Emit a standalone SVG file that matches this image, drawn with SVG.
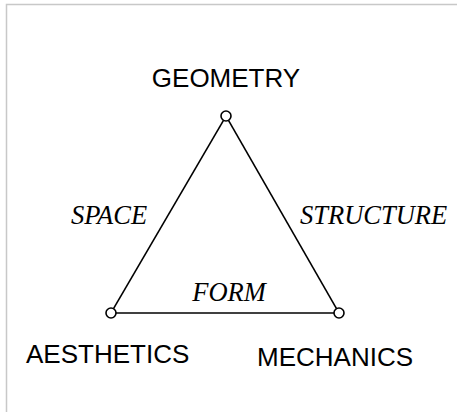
<svg xmlns="http://www.w3.org/2000/svg" width="457" height="412" viewBox="0 0 457 412">
<style>
.edge{stroke:#000;stroke-width:1.6;fill:none}
.node{fill:#fff;stroke:#000;stroke-width:1.6}
.lbl{font-family:"Liberation Sans",Arial,sans-serif;font-size:26px;fill:#000}
.elbl{font-family:"Liberation Serif","Times New Roman",serif;font-style:italic;font-size:26.5px;fill:#000}
</style>
<rect width="457" height="412" fill="#fff"/>
<path d="M6.5 420 V4.5 H470" fill="none" stroke="#c8c8c8" stroke-width="1.5"/>
<g id="connectors">
<line class="edge" x1="223.5" y1="120.3" x2="113.5" y2="308.7"/>
<line class="edge" x1="228.5" y1="120.3" x2="336.5" y2="308.7"/>
<line class="edge" x1="116" y1="313" x2="334" y2="313"/>
<text class="elbl" x="71" y="224">SPACE</text>
<text class="elbl" x="300" y="224">STRUCTURE</text>
<text class="elbl" x="229" y="301" text-anchor="middle">FORM</text>
</g>
<g id="geometry">
<circle class="node" cx="226" cy="116" r="5"/>
<text class="lbl" x="226" y="87" text-anchor="middle">GEOMETRY</text>
</g>
<g id="aesthetics">
<circle class="node" cx="111" cy="313" r="5"/>
<text class="lbl" x="26" y="363">AESTHETICS</text>
</g>
<g id="mechanics">
<circle class="node" cx="339" cy="313" r="5"/>
<text class="lbl" x="257" y="366">MECHANICS</text>
</g>
</svg>
